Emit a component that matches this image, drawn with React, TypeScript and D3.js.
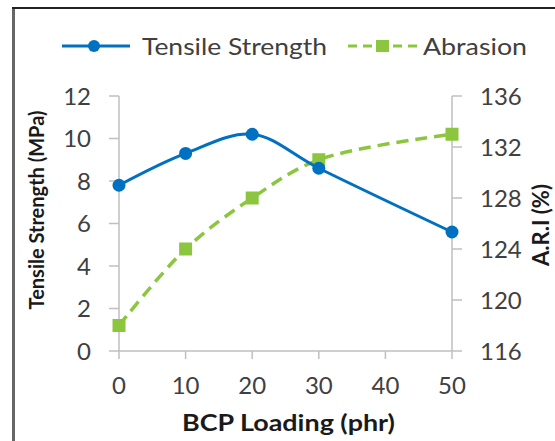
import React from "react";
import * as d3 from "d3";

const loading = [0, 10, 20, 30, 50];
const tensile = [7.8, 9.3, 10.2, 8.6, 5.6];
const abrasion = [118, 124, 128, 131, 133];
const xTicks = [0, 10, 20, 30, 40, 50];
const leftTicks = [0, 2, 4, 6, 8, 10, 12];
const rightTicks = [116, 120, 124, 128, 132, 136];

const W = 555;
const H = 441;
const plot = { left: 119, right: 452, top: 96, bottom: 351 };
const font = "Lato, 'Open Sans', sans-serif";
const textColor = "#404040";
const axisColor = "#bfbfbf";
const blue = "#0070c0";
const green = "#8cc63f";

const App = () => {
  const x = d3.scaleLinear().domain([0, 50]).range([plot.left, plot.right]);
  const yL = d3.scaleLinear().domain([0, 12]).range([plot.bottom, plot.top]);
  const yR = d3.scaleLinear().domain([116, 136]).range([plot.bottom, plot.top]);

  const tsLine = d3
    .line<number>()
    .x((_, i) => x(loading[i]))
    .y((d) => yL(d))
    .curve(d3.curveCatmullRom.alpha(0.5));
  const abLine = d3
    .line<number>()
    .x((_, i) => x(loading[i]))
    .y((d) => yR(d))
    .curve(d3.curveCatmullRom.alpha(0.5));

  return (
    <svg
      width={W}
      height={H}
      style={{ position: "absolute", left: 0, top: 0, background: "#fff" }}
    >
      {/* frame */}
      <line x1={13.5} y1={7} x2={13.5} y2={H} stroke="#666" strokeWidth={3} />
      <line x1={12} y1={8} x2={W} y2={8} stroke="#222" strokeWidth={2} />

      {/* legend */}
      <g fontFamily={font} fontSize={24} fill={textColor}>
        <line x1={62} y1={46} x2={130} y2={46} stroke={blue} strokeWidth={3} />
        <circle cx={94} cy={46} r={6} fill={blue} />
        <text x={142} y={55} textLength={185} lengthAdjust="spacingAndGlyphs">
          Tensile Strength
        </text>
        <line x1={348} y1={46} x2={418} y2={46} stroke={green} strokeWidth={3} strokeDasharray="9 6" />
        <rect x={376} y={40} width={13} height={12} fill={green} />
        <text x={423} y={55} textLength={104} lengthAdjust="spacingAndGlyphs">
          Abrasion
        </text>
      </g>

      {/* axes */}
      <g stroke={axisColor} strokeWidth={1.5}>
        <line x1={plot.left} y1={plot.top} x2={plot.left} y2={plot.bottom} />
        <line x1={plot.right} y1={plot.top} x2={plot.right} y2={plot.bottom} />
        <line x1={plot.left} y1={plot.bottom} x2={plot.right} y2={plot.bottom} />
        {leftTicks.map((t) => (
          <line key={"l" + t} x1={plot.left - 10} x2={plot.left} y1={yL(t)} y2={yL(t)} />
        ))}
        {rightTicks.map((t) => (
          <line key={"r" + t} x1={plot.right} x2={plot.right + 10} y1={yR(t)} y2={yR(t)} />
        ))}
        {xTicks.map((t) => (
          <line key={"x" + t} x1={x(t)} x2={x(t)} y1={plot.bottom} y2={plot.bottom + 8} />
        ))}
      </g>

      <g fontFamily={font} fontSize={24} fill={textColor}>
        {leftTicks.map((t) => (
          <text key={"lt" + t} x={91} y={yL(t) + 8.5} textAnchor="end">
            {t}
          </text>
        ))}
        {rightTicks.map((t) => (
          <text key={"rt" + t} x={480} y={yR(t) + 8.5}>
            {t}
          </text>
        ))}
        {xTicks.map((t) => (
          <text key={"xt" + t} x={x(t)} y={394} textAnchor="middle">
            {t}
          </text>
        ))}
      </g>

      {/* axis titles */}
      <g fontFamily={font} fontWeight="bold" fill="#1a1a1a">
        <text x={182} y={431} fontSize={22} textLength={213} lengthAdjust="spacingAndGlyphs">
          BCP Loading (phr)
        </text>
        <text
          transform="translate(44,210) rotate(-90)"
          fontSize={20}
          textAnchor="middle"
        >
          Tensile Strength (MPa)
        </text>
        <text
          transform="translate(549,225) rotate(-90)"
          fontSize={22}
          textAnchor="middle"
        >
          A.R.I (%)
        </text>
      </g>

      {/* series */}
      <path d={abLine(abrasion) || ""} fill="none" stroke={green} strokeWidth={3.5} strokeDasharray="12 7" />
      {abrasion.map((v, i) => (
        <rect key={"ab" + i} x={x(loading[i]) - 6.5} y={yR(v) - 6.5} width={13} height={13} fill={green} />
      ))}
      <path d={tsLine(tensile) || ""} fill="none" stroke={blue} strokeWidth={3} />
      {tensile.map((v, i) => (
        <circle key={"ts" + i} cx={x(loading[i])} cy={yL(v)} r={6.5} fill={blue} />
      ))}
    </svg>
  );
};

export default App;
